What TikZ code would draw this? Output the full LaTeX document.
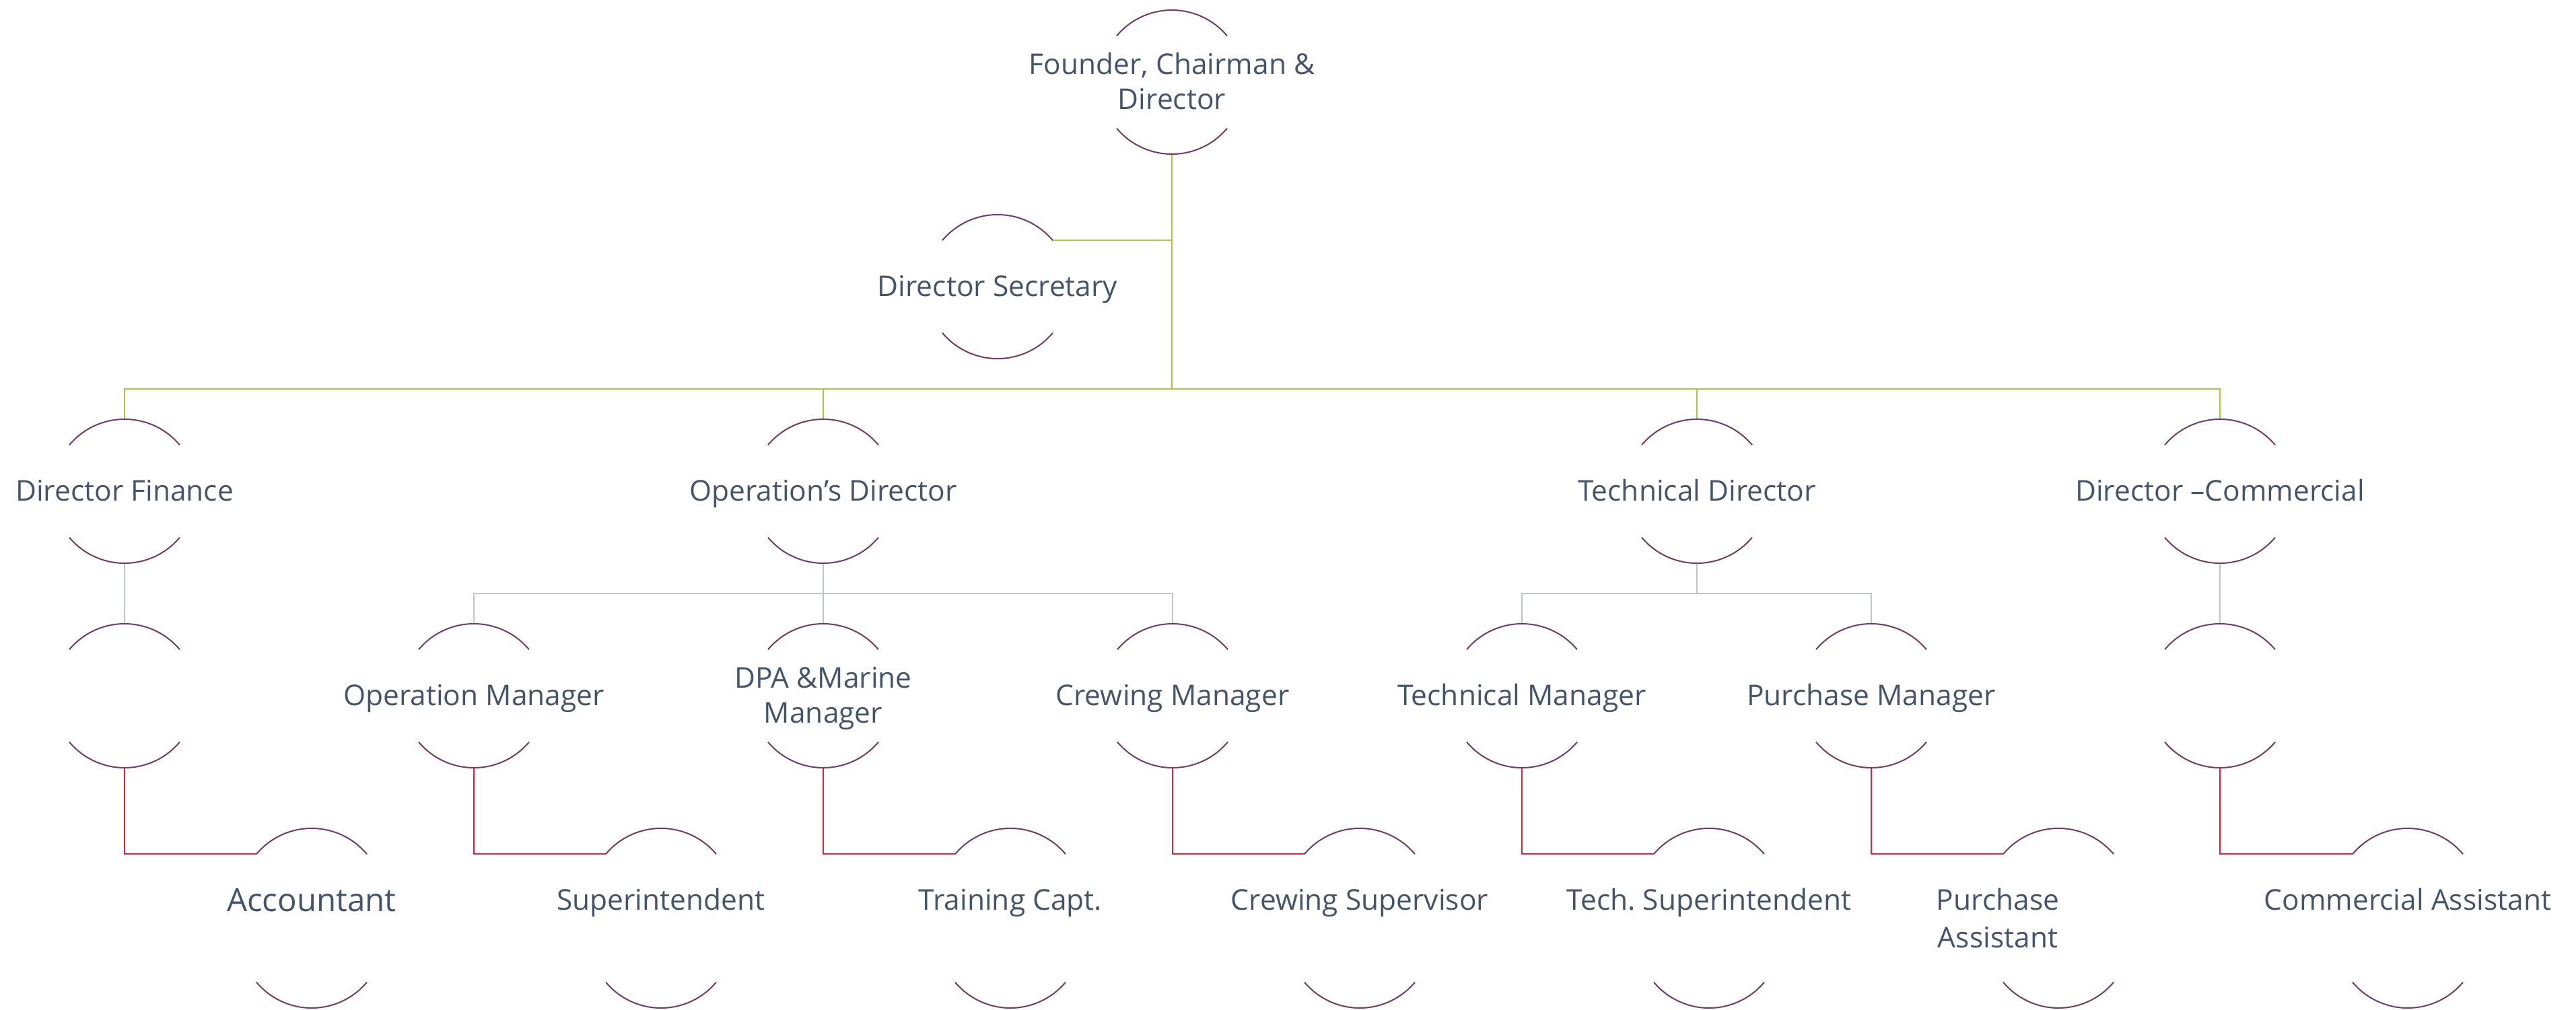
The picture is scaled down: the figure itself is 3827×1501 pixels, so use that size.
\documentclass[tikz,border=0pt]{standalone}
\usepackage{fontspec}
\setmainfont{Open Sans}
\usetikzlibrary{calc}
\definecolor{txtc}{HTML}{44546A}
\definecolor{arcc}{RGB}{110,60,100}
\definecolor{grn}{RGB}{166,204,57}
\definecolor{gry}{RGB}{190,195,206}
\definecolor{rd}{RGB}{232,30,58}
\newcommand\tstrut{\rule[-0.2em]{0pt}{1.1em}}
\newcommand\carcs[2][0]{%
  \draw[arcline] ($(#2.center)+(220:107)$) arc[start angle=220,end angle=320,radius=107];
  \draw[arcline] ($(#2.center)+(0,#1)+(40:107)$) arc[start angle=40,end angle=140,radius=107];}
\begin{document}
\begin{tikzpicture}[x=1pt,y=-1pt,
  box/.style={circle,minimum size=214pt,inner sep=0pt,outer sep=0pt,draw=none},
  lbl/.style={inner sep=0pt,align=center,text=txtc,font=\fontsize{42.5}{52}\selectfont},
  arcline/.style={draw=arcc,line width=2pt},
  gline/.style={draw=grn,line width=2.5pt},
  yline/.style={draw=gry,line width=2.5pt},
  rline/.style={draw=rd,line width=2.5pt},
]
\useasboundingbox (0,0) rectangle (3827,1501);
% level 0/1
\node[box,label={[lbl]center:\tstrut Founder, Chairman \&\\\tstrut Director}] (top) at (1741,122) {};
\node[box,label={[lbl]center:\tstrut Director Secretary}] (sec) at (1482,426) {};
% level 2
\node[box,label={[lbl]center:\tstrut Director Finance}] (fin) at (185,730) {};
\node[box,label={[lbl]center:\tstrut Operation’s Director}] (opd) at (1223,730) {};
\node[box,label={[lbl]center:\tstrut Technical Director}] (tdir) at (2521,730) {};
\node[box,label={[lbl]center:\tstrut Director –Commercial}] (com) at (3298,730) {};
% level 3
\node[box] (fb) at (185,1034) {};
\node[box,label={[lbl]center:\tstrut Operation Manager}] (opm) at (704,1034) {};
\node[box,label={[lbl]center:\tstrut DPA \&Marine\\\tstrut Manager}] (dpa) at (1223,1034) {};
\node[box,label={[lbl]center:\tstrut Crewing Manager}] (crm) at (1742,1034) {};
\node[box,label={[lbl]center:\tstrut Technical Manager}] (tm) at (2261,1034) {};
\node[box,label={[lbl]center:\tstrut Purchase Manager}] (pm) at (2780,1034) {};
\node[box] (cb) at (3298,1034) {};
% level 4
\node[box,label={[lbl,font=\fontsize{47.5}{56}\selectfont]center:\tstrut Accountant}] (acc) at (463,1338) {};
\node[box,label={[lbl]center:\tstrut Superintendent}] (sup) at (982,1338) {};
\node[box,label={[lbl]center:\tstrut Training Capt.}] (trc) at (1501,1338) {};
\node[box,label={[lbl]center:\tstrut Crewing Supervisor}] (crs) at (2020,1338) {};
\node[box,label={[lbl]center:\tstrut Tech.\ Superintendent}] (tsu) at (2539,1338) {};
\node[box,label={[lbl,font=\fontsize{42.5}{56}\selectfont,xshift=-90pt,yshift=-28pt]center:\tstrut Purchase\\\tstrut Assistant}] (pa) at (3058,1338) {};
\node[box,label={[lbl]center:\tstrut Commercial Assistant}] (ca) at (3577,1338) {};
% junctions
\coordinate (gj) at (1741,578);
\coordinate (ob) at (1223,882);
\coordinate (tb) at (2521,882);
% green connectors
\draw[gline] (top.south) -- (gj);
\draw[gline] (sec.40) -- (sec.40 -| top.south);
\draw[gline] (fin.north) |- (gj) -| (com.north);
\draw[gline] (opd.north) -- (opd.north |- gj);
\draw[gline] (tdir.north) -- (tdir.north |- gj);
% grey connectors
\draw[yline] (fin.south) -- (fb.north);
\draw[yline] (opd.south) -- (ob) -- (dpa.north);
\draw[yline] (opm.north) |- (ob) -| (crm.north);
\draw[yline] (tdir.south) -- (tb);
\draw[yline] (tm.north) |- (tb) -| (pm.north);
\draw[yline] (com.south) -- (cb.north);
% red connectors
\draw[rline] (fb.south) |- (acc.140);
\draw[rline] (opm.south) |- (sup.140);
\draw[rline] (dpa.south) |- (trc.140);
\draw[rline] (crm.south) |- (crs.140);
\draw[rline] (tm.south) |- (tsu.140);
\draw[rline] (pm.south) |- (pa.140);
\draw[rline] (cb.south) |- (ca.140);
% arcs
\foreach \n in {top,sec,fin,opd,tdir,com,fb,opm,dpa,crm,tm,pm,cb}{\carcs{\n}}
\foreach \n in {acc,sup,trc,crs,tsu,pa,ca}{\carcs[53]{\n}}
\end{tikzpicture}
\end{document}
